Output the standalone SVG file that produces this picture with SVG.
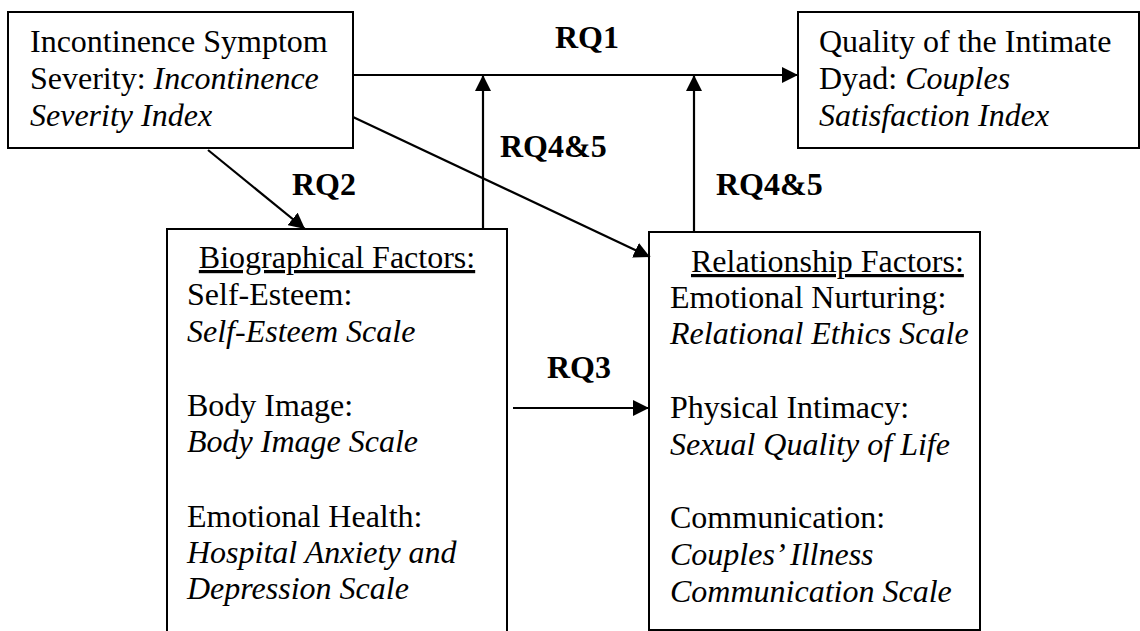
<svg xmlns="http://www.w3.org/2000/svg" width="1140" height="631" viewBox="0 0 1140 631">
<style>
text { font-family: "Liberation Serif", "Times New Roman", serif; font-size: 32px; fill: #000; }
.i { font-style: italic; }
.b { font-weight: bold; }
.u { text-decoration: underline; }
.box { fill: #fff; stroke: #000; stroke-width: 2; }
.c { stroke: #000; stroke-width: 2.2; fill: none; }
</style>
<defs>
<marker id="ah" markerUnits="userSpaceOnUse" markerWidth="17" markerHeight="16" refX="16" refY="8" orient="auto">
<path d="M0,0 L16,8 L0,16 Z" fill="#000"/>
</marker>
</defs>
<rect width="1140" height="631" fill="#fff"/>
<g id="n-severity">
<rect class="box" x="8" y="12" width="345" height="136"/>
<text x="30" y="52">Incontinence Symptom</text>
<text x="30" y="89">Severity: <tspan class="i">Incontinence</tspan></text>
<text x="30" y="126" class="i">Severity Index</text>
</g>
<g id="n-dyad">
<rect class="box" x="798" y="12" width="341" height="136"/>
<text x="819" y="52">Quality of the Intimate</text>
<text x="819" y="89">Dyad: <tspan class="i">Couples</tspan></text>
<text x="819" y="126" class="i">Satisfaction Index</text>
</g>
<g id="n-bio">
<rect class="box" x="167" y="229" width="340" height="430"/>
<text x="337" y="268" text-anchor="middle" class="u">Biographical Factors:</text>
<text x="187" y="305">Self-Esteem:</text>
<text x="187" y="342" class="i">Self-Esteem Scale</text>
<text x="187" y="416">Body Image:</text>
<text x="187" y="452" class="i">Body Image Scale</text>
<text x="187" y="527">Emotional Health:</text>
<text x="187" y="563" class="i">Hospital Anxiety and</text>
<text x="187" y="599" class="i">Depression Scale</text>
</g>
<g id="n-rel">
<rect class="box" x="649" y="232" width="331" height="398"/>
<text x="691" y="272" class="u">Relationship Factors:</text>
<text x="670" y="308">Emotional Nurturing:</text>
<text x="670" y="344" class="i">Relational Ethics Scale</text>
<text x="670" y="418">Physical Intimacy:</text>
<text x="670" y="455" class="i">Sexual Quality of Life</text>
<text x="670" y="528">Communication:</text>
<text x="670" y="565" class="i">Couples’ Illness</text>
<text x="670" y="602" class="i">Communication Scale</text>
</g>
<g id="connectors">
<line class="c" x1="353" y1="75" x2="798" y2="75" marker-end="url(#ah)"/>
<line class="c" x1="483" y1="229" x2="483" y2="75" marker-end="url(#ah)"/>
<line class="c" x1="694" y1="232" x2="694" y2="75" marker-end="url(#ah)"/>
<line class="c" x1="353" y1="117" x2="650" y2="257" marker-end="url(#ah)"/>
<line class="c" x1="208" y1="150" x2="305" y2="229" marker-end="url(#ah)"/>
<line class="c" x1="513" y1="408" x2="649" y2="408" marker-end="url(#ah)"/>
</g>
<g id="labels">
<text x="587" y="48" text-anchor="middle" class="b">RQ1</text>
<text x="500" y="157" class="b">RQ4&amp;5</text>
<text x="716" y="195" class="b">RQ4&amp;5</text>
<text x="292" y="195" class="b">RQ2</text>
<text x="547" y="378" class="b">RQ3</text>
</g>
</svg>
